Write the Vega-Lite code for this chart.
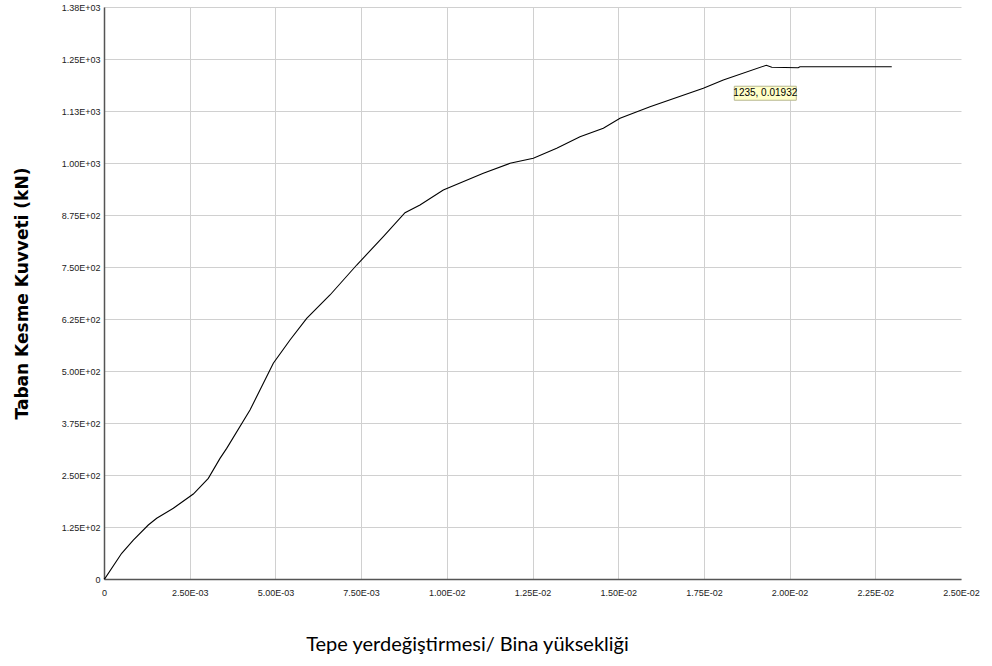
{
  "$schema": "https://vega.github.io/schema/vega-lite/v6.json",
  "width": 857,
  "height": 572,
  "autosize": {"type": "none"},
  "padding": {"left": 104, "top": 7, "right": 31, "bottom": 87},
  "background": "white",
  "config": {"view": {"stroke": null}},
  "datasets": {
    "curve": [
      {"drift": 0, "shear": 0},
      {"drift": 0.00003, "shear": 1.7},
      {"drift": 0.000516, "shear": 61.8},
      {"drift": 0.000855, "shear": 93.7},
      {"drift": 0.001292, "shear": 129.8},
      {"drift": 0.001537, "shear": 145.9},
      {"drift": 0.002022, "shear": 170},
      {"drift": 0.002605, "shear": 204.3},
      {"drift": 0.003043, "shear": 242},
      {"drift": 0.003384, "shear": 290},
      {"drift": 0.003579, "shear": 314},
      {"drift": 0.004259, "shear": 406},
      {"drift": 0.004939, "shear": 518.5},
      {"drift": 0.005426, "shear": 574.5},
      {"drift": 0.005913, "shear": 626.7},
      {"drift": 0.006593, "shear": 682.7},
      {"drift": 0.007372, "shear": 754.8},
      {"drift": 0.008148, "shear": 822.8},
      {"drift": 0.008781, "shear": 880.5},
      {"drift": 0.009218, "shear": 899},
      {"drift": 0.009898, "shear": 935},
      {"drift": 0.011065, "shear": 975.2},
      {"drift": 0.011844, "shear": 999.3},
      {"drift": 0.012524, "shear": 1011.3},
      {"drift": 0.013206, "shear": 1035.3},
      {"drift": 0.013886, "shear": 1063.2},
      {"drift": 0.014566, "shear": 1083.4},
      {"drift": 0.015053, "shear": 1107.4},
      {"drift": 0.015928, "shear": 1135.3},
      {"drift": 0.017483, "shear": 1179.5},
      {"drift": 0.018066, "shear": 1199.5},
      {"drift": 0.01932, "shear": 1235},
      {"drift": 0.01948, "shear": 1230},
      {"drift": 0.02025, "shear": 1229},
      {"drift": 0.0203, "shear": 1231.5},
      {"drift": 0.02298, "shear": 1231.5}
    ],
    "note": [
      {"drift": 0.01932, "shear": 1235, "label": "1235, 0.01932"}
    ]
  },
  "layer": [
    {
      "data": {"name": "curve"},
      "mark": {"type": "line", "color": "black", "strokeWidth": 1.1},
      "encoding": {
        "x": {
          "field": "drift",
          "type": "quantitative",
          "scale": {"domain": [0, 0.025], "nice": false, "zero": true},
          "axis": {
            "values": [0, 0.0025, 0.005, 0.0075, 0.01, 0.0125, 0.015, 0.0175, 0.02, 0.0225, 0.025],
            "labelExpr": "datum.value == 0 ? '0' : format(datum.value / pow(10, floor(log(datum.value) / LN10 + 1e-9)), '.2f') + 'E' + (datum.value < 1 ? '-' : '+') + pad(toString(abs(floor(log(datum.value) / LN10 + 1e-9))), 2, '0', 'left')",
            "labelFont": "Liberation Sans",
            "labelFontSize": 9,
            "labelColor": "#222",
            "labelPadding": 9,
            "labelFlush": false,
            "ticks": false,
            "domainColor": "#555",
            "domainWidth": 1.5,
            "grid": true,
            "gridColor": "#d0d0d0",
            "gridWidth": 1,
            "gridOpacity": {"condition": {"test": "datum.value >= 0.025", "value": 0}, "value": 1},
            "title": "Tepe yerdeğiştirmesi/ Bina yüksekliği",
            "titleFont": "Lato",
            "titleFontSize": 20,
            "titleFontWeight": "normal",
            "titleColor": "black",
            "titleX": 363,
            "titleY": 71,
            "titleAlign": "center",
            "titleBaseline": "alphabetic"
          }
        },
        "y": {
          "field": "shear",
          "type": "quantitative",
          "scale": {"domain": [0, 1375], "nice": false},
          "axis": {
            "values": [0, 125, 250, 375, 500, 625, 750, 875, 1000, 1125, 1250, 1375],
            "labelExpr": "datum.value == 0 ? '0' : format(datum.value / pow(10, floor(log(datum.value) / LN10 + 1e-9)), '.2f') + 'E' + (datum.value < 1 ? '-' : '+') + pad(toString(abs(floor(log(datum.value) / LN10 + 1e-9))), 2, '0', 'left')",
            "labelFont": "Liberation Sans",
            "labelFontSize": 9,
            "labelColor": "#222",
            "labelPadding": 4,
            "labelFlush": false,
            "ticks": false,
            "domainColor": "#555",
            "domainWidth": 1.5,
            "grid": true,
            "gridColor": "#d0d0d0",
            "gridWidth": 1,
            "title": "Taban Kesme Kuvveti (kN)",
            "titleFont": "DejaVu Sans",
            "titleFontSize": 17,
            "titleFontWeight": "bold",
            "titleColor": "black",
            "titleX": -77,
            "titleY": 286,
            "titleAlign": "center",
            "titleBaseline": "alphabetic",
            "titleAngle": -90
          }
        }
      }
    },
    {
      "data": {"name": "note"},
      "mark": {"type": "rect", "width": 62, "height": 14, "fill": "#ffffc8", "stroke": "#b8b890", "strokeWidth": 1, "xOffset": -1, "yOffset": 28},
      "encoding": {
        "x": {"field": "drift", "type": "quantitative"},
        "y": {"field": "shear", "type": "quantitative"}
      }
    },
    {
      "data": {"name": "note"},
      "mark": {"type": "text", "font": "Liberation Sans", "fontSize": 10, "color": "black", "align": "center", "baseline": "middle", "dx": -1, "dy": 28},
      "encoding": {
        "x": {"field": "drift", "type": "quantitative"},
        "y": {"field": "shear", "type": "quantitative"},
        "text": {"field": "label"}
      }
    }
  ]
}
